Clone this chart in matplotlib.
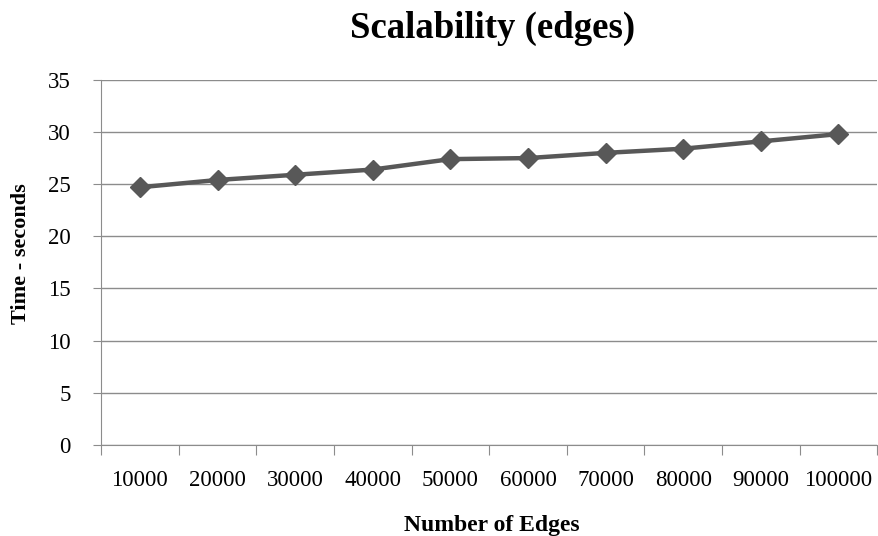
import matplotlib
matplotlib.use("Agg")
import matplotlib.pyplot as plt

# Values
edges = ["10000", "20000", "30000", "40000", "50000",
         "60000", "70000", "80000", "90000", "100000"]
time_seconds = [24.7, 25.4, 25.9, 26.4, 27.4, 27.5, 28.0, 28.4, 29.1, 29.8]
y_ticks = [0, 5, 10, 15, 20, 25, 30, 35]

plt.rcParams['font.family'] = ['Liberation Serif', 'DejaVu Serif']

fig = plt.figure(figsize=(8.79, 5.36), dpi=100)
ax = fig.add_axes([0.115, 0.170, 0.883, 0.681])

x = range(len(edges))
ax.plot(x, time_seconds, color='#585858', linewidth=3.2,
        marker='D', markersize=10, markerfacecolor='#585858', markeredgecolor='#585858')

ax.set_xlim(-0.5, len(edges) - 0.5)
ax.set_ylim(0, 35)
ax.set_yticks(y_ticks)
ax.yaxis.grid(True, color='#8c8c8c', linewidth=1.0)
ax.set_axisbelow(True)

# category axis: ticks between the categories, labels centered
ax.set_xticks([i - 0.5 for i in range(len(edges) + 1)])
ax.set_xticklabels([])
ax.set_xticks(list(x), minor=True)
ax.set_xticklabels(edges, minor=True, fontsize=16.5)
ax.tick_params(axis='x', which='minor', length=0, pad=18)
ax.tick_params(axis='x', which='major', length=7, color='#8c8c8c', direction='out')
ax.tick_params(axis='y', length=6, color='#8c8c8c', labelsize=16.5, pad=16)

for side in ['top', 'right']:
    ax.spines[side].set_visible(False)
ax.spines['left'].set_color('#8c8c8c')
ax.spines['bottom'].set_color('#8c8c8c')

fig.text(0.56, 0.0093, "Number of Edges", fontsize=17, fontweight='bold',
         ha='center', va='baseline')
fig.text(0.024, 0.527, "Time - seconds", fontsize=16, fontweight='bold',
         rotation=90, ha='center', va='center')
fig.text(0.56, 0.93, "Scalability (edges)", fontsize=26.5, fontweight='bold',
         ha='center', va='baseline')

plt.savefig("out.png", dpi=100)
